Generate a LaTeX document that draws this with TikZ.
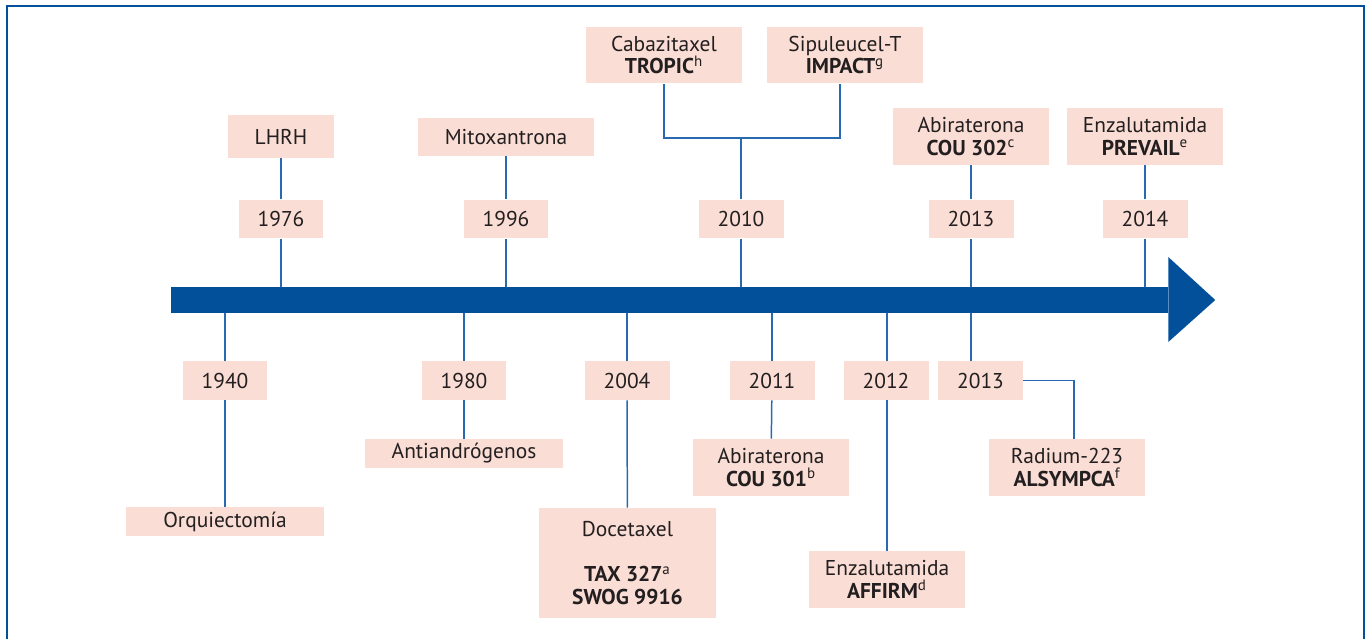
\documentclass[tikz,border=0pt]{standalone}
\usepackage{fontspec}
\setmainfont{PT Sans}
\usetikzlibrary{positioning, backgrounds}
\definecolor{boxpink}{RGB}{250,221,212}
\definecolor{axisblue}{RGB}{2,80,154}
\definecolor{linkblue}{RGB}{40,105,175}
\definecolor{inkgray}{RGB}{35,31,32}
\tikzstyle{yearbox} = [rectangle, 
minimum width=1.7cm, 
minimum height=0.78cm, 
inner sep=0pt, 
text=inkgray, 
fill=boxpink]
\tikzstyle{eventbox} = [rectangle, 
minimum width=3.12cm, 
minimum height=1.14cm, 
inner sep=0pt, 
align=center, 
text=inkgray, 
fill=boxpink]
\tikzstyle{axisbar} = [rectangle, 
minimum width=19.94cm, 
minimum height=0.52cm, 
inner sep=0pt, 
fill=axisblue]
\tikzstyle{link} = [linkblue, line width=0.85pt]
\newcommand{\trial}[2]{\textbf{#1}\textsuperscript{\mdseries #2}}

\begin{document}
\begin{tikzpicture}[x=0.02cm, y=-0.02cm, font=\fontsize{12.2}{13}\selectfont]
  \useasboundingbox (0,0) rectangle (1365,639);
  \draw [axisblue, line width=1.7pt] (7,639) -- (7,6) -- (1364.5,6) -- (1364.5,639);

  % timeline
  \node (axis) [axisbar] at (669.5,300) {};
  \fill [axisblue] (axis.east) ++(0,-43) -- ++(47,43) -- ++(-47,42) -- cycle;

  % above the line
  \node (lhrh) [eventbox, minimum width=2.12cm, minimum height=0.86cm] at (281,136.5) {LHRH};
  \node (y1976) [yearbox] at (281,219) {1976};
  \node (mitox) [eventbox, minimum width=3.52cm, minimum height=0.76cm] at (506,137) {Mitoxantrona};
  \node (y1996) [yearbox] at (506,219) {1996};
  \node (tropic) [eventbox] at (664,55) {Cabazitaxel\\\trial{TROPIC}{h}};
  \node (impact) [eventbox] at (845,55) {Sipuleucel-T\\\trial{IMPACT}{g}};
  \coordinate (fork) at (741,138);
  \node (y2010) [yearbox] at (741,219) {2010};
  \node (cou302) [eventbox] at (971,136.5) {Abiraterona\\\trial{COU 302}{c}};
  \node (y2013a) [yearbox] at (971,219) {2013};
  \node (prevail) [eventbox] at (1145,136.5) {Enzalutamida\\\trial{PREVAIL}{e}};
  \node (y2014) [yearbox] at (1145,219) {2014};

  % below the line
  \node (y1940) [yearbox] at (225,380.5) {1940};
  \node (orq) [eventbox, minimum width=3.96cm, minimum height=0.58cm] at (225,521.5) {Orquiectomía};
  \node (y1980) [yearbox] at (464,380.5) {1980};
  \node (antiandr) [eventbox, minimum width=3.96cm, minimum height=0.58cm] at (464,453.5) {Antiandrógenos};
  \node (y2004) [yearbox] at (627,380.5) {2004};
  \node (docetaxel) [eventbox, minimum width=3.54cm, minimum height=2.2cm] at (627.5,563) {Docetaxel\\~\\\trial{TAX 327}{a}\\\textbf{SWOG 9916}};
  \node (y2011) [yearbox] at (772,380.5) {2011};
  \node (cou301) [eventbox] at (771,467.5) {Abiraterona\\\trial{COU 301}{b}};
  \node (y2012) [yearbox] at (886,380.5) {2012};
  \node (affirm) [eventbox] at (887,579.5) {Enzalutamida\\\trial{AFFIRM}{d}};
  \node (y2013b) [yearbox] at (980.5,380.5) {2013};
  \node (radium) [eventbox] at (1067,467.5) {Radium-223\\\trial{ALSYMPCA}{f}};

  \begin{scope}[on background layer]
    \draw [link] (lhrh) -- (y1976);
    \draw [link] (y1976) -- (y1976 |- axis.north);
    \draw [link] (mitox) -- (y1996);
    \draw [link] (y1996) -- (y1996 |- axis.north);
    \draw [link] (tropic.south) |- (fork) -| ([xshift=-0.1cm]impact.south);
    \draw [link] (fork) -- (y2010);
    \draw [link] (y2010) -- (y2010 |- axis.north);
    \draw [link] (cou302) -- (y2013a);
    \draw [link] (y2013a) -- (y2013a |- axis.north);
    \draw [link] (prevail) -- (y2014);
    \draw [link] (y2014) -- (y2014 |- axis.north);

    \draw [link] (axis.south -| y1940) -- (y1940);
    \draw [link] (y1940) -- (orq);
    \draw [link] (axis.south -| y1980) -- (y1980);
    \draw [link] (y1980) -- (antiandr);
    \draw [link] (axis.south -| y2004) -- (y2004);
    \draw [link] (y2004) -- (docetaxel);
    \draw [link] (axis.south -| y2011) -- (y2011);
    \draw [link] (y2011) -- (cou301);
    \draw [link] (axis.south -| affirm) -- (affirm);
    \draw [link] (axis.south -| y2013a) -- (y2013a |- y2013b.north);
    \draw [link] (y2013b.east) -| ([xshift=0.14cm]radium.north);
  \end{scope}
\end{tikzpicture}
\end{document}
